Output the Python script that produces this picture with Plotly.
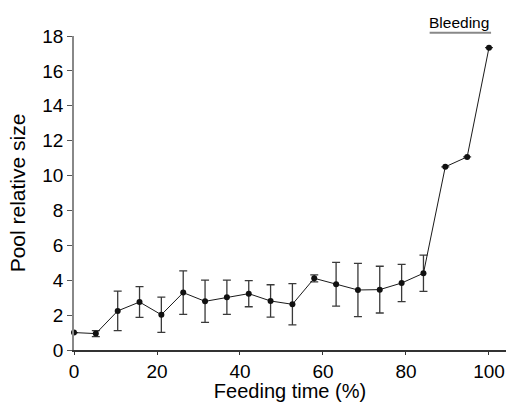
import plotly.graph_objects as go

feeding_time = [0, 5.26, 10.53, 15.79, 21.05, 26.32, 31.58, 36.84, 42.11, 47.37,
                52.63, 57.89, 63.16, 68.42, 73.68, 78.95, 84.21, 89.47, 94.74, 100]
pool_size = [1.0, 0.94, 2.24, 2.75, 2.02, 3.29, 2.79, 3.02, 3.23, 2.81,
             2.62, 4.11, 3.77, 3.44, 3.46, 3.84, 4.4, 10.5, 11.07, 17.33]
pool_err = [0, 0.17, 1.13, 0.88, 1.01, 1.25, 1.21, 0.98, 0.75, 0.93,
            1.18, 0.2, 1.25, 1.53, 1.34, 1.07, 1.04, 0, 0, 0]
x_ticks = [0, 20, 40, 60, 80, 100]
y_ticks = [0, 2, 4, 6, 8, 10, 12, 14, 16, 18]

fig = go.Figure()
fig.add_trace(go.Scatter(
    x=feeding_time, y=pool_size, mode="lines+markers",
    line=dict(color="#1a1a1a", width=1),
    marker=dict(color="#111111", size=6),
    error_y=dict(type="data", array=pool_err, visible=True,
                 color="#3a3a3a", thickness=1.3, width=4),
    cliponaxis=False,
    showlegend=False,
))

font = "Liberation Sans, Arial, sans-serif"
fig.update_layout(
    width=508, height=402,
    margin=dict(l=74, r=2, t=36, b=52),
    paper_bgcolor="white", plot_bgcolor="white",
    font=dict(family=font, color="black"),
    xaxis=dict(range=[0, 104.1], tickvals=x_ticks, ticks="outside", ticklen=3,
               tickcolor="#333", showline=True, linecolor="#333", linewidth=1.5,
               showgrid=False, zeroline=False, tickfont=dict(size=19),
               automargin=False,
               title=dict(text="Feeding time (%)", font=dict(size=20), standoff=2)),
    yaxis=dict(range=[0, 18], tickvals=y_ticks, ticks="outside", ticklen=5,
               tickcolor="#555", showline=True, linecolor="#888", linewidth=1.5,
               showgrid=False, zeroline=False, tickfont=dict(size=19),
               automargin=False,
               title=dict(text="Pool relative size", font=dict(size=21), standoff=11)),
)
fig.add_shape(type="line", xref="x", yref="paper", x0=85.7, x1=100.5, y0=1.01, y1=1.01,
              line=dict(color="#888888", width=2))
fig.add_annotation(text="Bleeding", xref="x", yref="paper", x=92.8, y=1.01,
                   yanchor="bottom", showarrow=False, font=dict(size=15.5, family=font))

fig.write_html("out.html", config={"displayModeBar": False},
               post_script="document.body.style.margin='0';document.body.style.overflow='hidden';")
